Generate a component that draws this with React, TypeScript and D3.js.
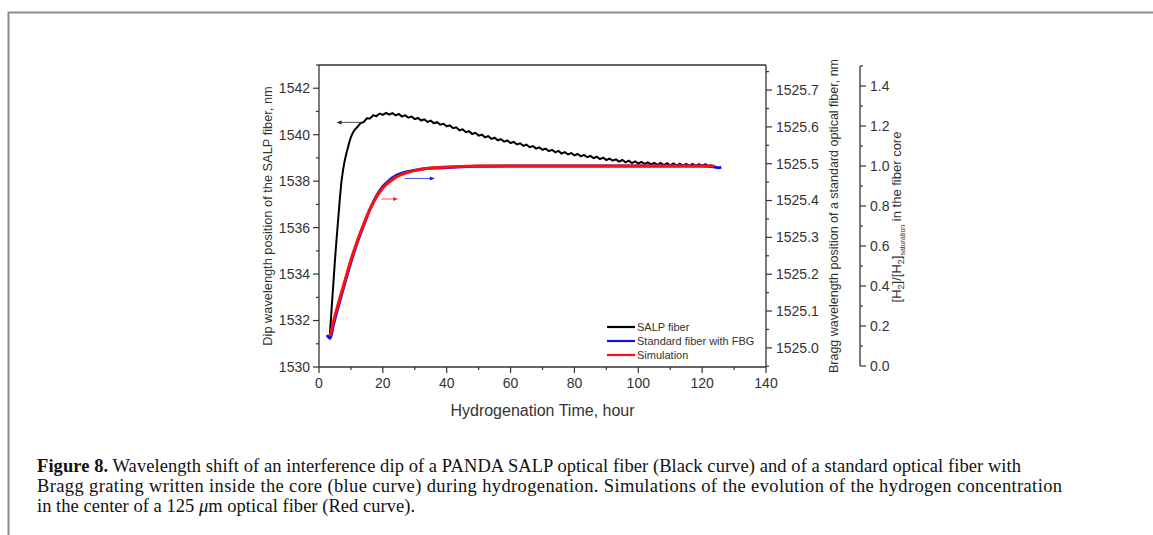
import React from 'react';
import * as d3 from 'd3';

// ---------- data ----------
const blackHours = [3.4, 4, 4.5, 5, 5.5, 6, 6.5, 7, 7.5, 8, 8.5, 9, 9.5, 10, 10.5, 11, 12, 13, 14, 15, 16, 17, 18, 19, 20, 21, 22, 23, 24, 25, 26, 27, 28, 29, 30, 31, 32, 33, 34, 35, 36, 37, 38, 39, 40, 41, 42, 43, 44, 45, 46, 47, 48, 49, 50, 51, 52, 53, 54, 55, 56, 57, 58, 59, 60, 61, 62, 63, 64, 65, 66, 67, 68, 69, 70, 71, 72, 73, 74, 75, 76, 77, 78, 79, 80, 81, 82, 83, 84, 85, 86, 87, 88, 89, 90, 91, 92, 93, 94, 95, 96, 97, 98, 99, 100, 101, 102, 103, 104, 105, 106, 107, 108, 109, 110, 111, 112, 113, 114, 115, 116, 117, 118, 119, 120, 121, 122, 123];
const blackNm = [1531.40, 1532.6, 1533.6, 1534.6, 1535.5, 1536.35, 1537.2, 1537.95, 1538.45, 1538.85, 1539.15, 1539.42, 1539.68, 1539.9, 1540.05, 1540.18, 1540.33,
  1540.50, 1540.54, 1540.71, 1540.70, 1540.84, 1540.80, 1540.91, 1540.85, 1540.94, 1540.86, 1540.93, 1540.83, 1540.89, 1540.78, 1540.84, 1540.73, 1540.78, 1540.67, 1540.72, 1540.61, 1540.66, 1540.55, 1540.60, 1540.49, 1540.54, 1540.43, 1540.47, 1540.36, 1540.40, 1540.28, 1540.32, 1540.19, 1540.23, 1540.11, 1540.15, 1540.03, 1540.08, 1539.96, 1540.00, 1539.89, 1539.94, 1539.82, 1539.87, 1539.76, 1539.81, 1539.70, 1539.75, 1539.64, 1539.69, 1539.58, 1539.63, 1539.52, 1539.57, 1539.46, 1539.51, 1539.40, 1539.45, 1539.35, 1539.40, 1539.29, 1539.35, 1539.24, 1539.30, 1539.19, 1539.25, 1539.15, 1539.21, 1539.11, 1539.17, 1539.07, 1539.13, 1539.03, 1539.09, 1538.99, 1539.05, 1538.95, 1539.01, 1538.91, 1538.97, 1538.88, 1538.94, 1538.84, 1538.91, 1538.81, 1538.88, 1538.78, 1538.85, 1538.76, 1538.83, 1538.74, 1538.81, 1538.72, 1538.79, 1538.70, 1538.78, 1538.69, 1538.77, 1538.68, 1538.76, 1538.67, 1538.75, 1538.66, 1538.74, 1538.66, 1538.74, 1538.65, 1538.73, 1538.65, 1538.73, 1538.64, 1538.70];

const blueHours = [2.5, 3.5, 4.5, 6, 8, 10, 12, 14, 16, 18, 20, 22, 24, 26, 28, 30, 33, 36, 40, 45, 50, 60, 70, 80, 90, 100, 110, 120, 124, 125, 126];
const blueNm = [1525.035, 1525.026, 1525.062, 1525.111, 1525.173, 1525.233, 1525.287, 1525.333, 1525.377, 1525.412, 1525.438, 1525.455, 1525.467, 1525.474, 1525.479, 1525.482, 1525.486, 1525.488, 1525.490, 1525.492, 1525.493, 1525.494, 1525.494, 1525.494, 1525.494, 1525.494, 1525.494, 1525.494, 1525.491, 1525.489, 1525.490];

const redHours = [3.5, 4.5, 6, 8, 10, 12, 14, 16, 18, 20, 22, 24, 26, 28, 30, 33, 36, 40, 45, 50, 60, 80, 100, 123.8];
const redFrac = [0.15, 0.22, 0.31, 0.42, 0.53, 0.625, 0.71, 0.785, 0.845, 0.89, 0.92, 0.943, 0.958, 0.969, 0.977, 0.986, 0.991, 0.995, 0.998, 1.0, 1.0, 1.0, 1.0, 1.0];

const xTicks = [0, 20, 40, 60, 80, 100, 120, 140];
const xMinor = [10, 30, 50, 70, 90, 110, 130];
const leftTicks = [1530, 1532, 1534, 1536, 1538, 1540, 1542];
const leftMinor = [1531, 1533, 1535, 1537, 1539, 1541, 1543];
const braggTicks = [1525.0, 1525.1, 1525.2, 1525.3, 1525.4, 1525.5, 1525.6, 1525.7];
const braggMinor = [1524.95, 1525.05, 1525.15, 1525.25, 1525.35, 1525.45, 1525.55, 1525.65, 1525.75];
const fracTicks = [0, 0.2, 0.4, 0.6, 0.8, 1.0, 1.2, 1.4];
const fracMinor = [0.1, 0.3, 0.5, 0.7, 0.9, 1.1, 1.3, 1.5];

const legendLabels = ['SALP fiber', 'Standard fiber with FBG', 'Simulation'];
const seriesColors = ['#000000', '#1010e0', '#ff1010'];

// arrows: [x from, x to, y] in data units of each series' axis
const arrowBlack = [13.4, 5.5, 1540.53];
const arrowBlue = [26.9, 36.3, 1525.46];
const arrowRed = [19.6, 24.8, 0.835];

const captionLine1 = ' Wavelength shift of an interference dip of a PANDA SALP optical fiber (Black curve) and of a standard optical fiber with';
const captionLine2 = 'Bragg grating written inside the core (blue curve) during hydrogenation. Simulations of the evolution of the hydrogen concentration';

// ---------- layout ----------
const W = 1153, H = 535;
const L = 319, R = 766, T = 65, B = 367;
const AX3 = 860;
const axisColor = '#333';
const textColor = '#333';
const sans = '"Liberation Sans", Arial, sans-serif';
const serif = '"Liberation Serif", "Times New Roman", serif';

export default function App() {
  const x = d3.scaleLinear().domain([0, 140]).range([L, R]);
  const yL = d3.scaleLinear().domain([1530, 1543]).range([B, T]);
  const yB = d3.scaleLinear().domain([1524.948, 1525.768]).range([B, T]);
  const yF = d3.scaleLinear().domain([0, 1.5]).range([366, 66]);

  const lineBlack = d3.line<number>().x((_, i) => x(blackHours[i])).y(d => yL(d));
  const lineBlue = d3.line<number>().x((_, i) => x(blueHours[i])).y(d => yB(d)).curve(d3.curveMonotoneX);
  const lineRed = d3.line<number>().x((_, i) => x(redHours[i])).y(d => yF(d)).curve(d3.curveMonotoneX);

  const arrow = (x1: number, x2: number, y: number, color: string, key: string) => {
    const dir = Math.sign(x2 - x1);
    return (
      <g key={key}>
        <line x1={x1} x2={x2 - dir * 3} y1={y} y2={y} stroke={color} strokeWidth={0.8} />
        <path d={`M${x2},${y} L${x2 - dir * 5},${y - 2} L${x2 - dir * 5},${y + 2} Z`} fill={color} />
      </g>
    );
  };

  return (
    <svg width={W} height={H} style={{ position: 'absolute', left: 0, top: 0, background: '#fff' }}>
      {/* page frame */}
      <path d={`M8.5,${H} L8.5,12.5 L${W},12.5`} fill="none" stroke="#8c8c8c" strokeWidth={2} />

      {/* series */}
      <path d={lineBlack(blackNm) || ''} fill="none" stroke={seriesColors[0]} strokeWidth={2} strokeLinejoin="miter" />
      <path d={lineBlue(blueNm) || ''} fill="none" stroke={seriesColors[1]} strokeWidth={3} />
      <path d={lineRed(redFrac) || ''} fill="none" stroke={seriesColors[2]} strokeWidth={3} />

      {/* arrows */}
      {arrow(x(arrowBlack[0]), x(arrowBlack[1]), yL(arrowBlack[2]), '#222', 'ab')}
      {arrow(x(arrowBlue[0]), x(arrowBlue[1]), yB(arrowBlue[2]), '#2020e0', 'abl')}
      {arrow(x(arrowRed[0]), x(arrowRed[1]), yF(arrowRed[2]), '#ff2020', 'ar')}

      {/* frame */}
      <g stroke={axisColor} strokeWidth={1.3} fill="none">
        <line x1={L} x2={R} y1={T} y2={T} />
        <line x1={L} x2={R} y1={B} y2={B} />
        <line x1={L} x2={L} y1={T} y2={B} />
        <line x1={R} x2={R} y1={T} y2={B} />
        <line x1={AX3} x2={AX3} y1={66} y2={366} />
      </g>

      {/* bottom axis */}
      <g stroke={axisColor} strokeWidth={1.2}>
        {xTicks.map(t => <line key={'xt' + t} x1={x(t)} x2={x(t)} y1={B} y2={B + 6} />)}
        {xMinor.map(t => <line key={'xm' + t} x1={x(t)} x2={x(t)} y1={B} y2={B + 3} />)}
      </g>
      <g fill={textColor} fontFamily={sans} fontSize={14} textAnchor="middle">
        {xTicks.map(t => <text key={'xl' + t} x={x(t)} y={388}>{t}</text>)}
      </g>
      <text x={(L + R) / 2} y={416} fill={textColor} fontFamily={sans} fontSize={16} textAnchor="middle">Hydrogenation Time, hour</text>

      {/* left axis */}
      <g stroke={axisColor} strokeWidth={1.2}>
        {leftTicks.map(t => <line key={'lt' + t} x1={L - 6} x2={L} y1={yL(t)} y2={yL(t)} />)}
        {leftMinor.map(t => <line key={'lm' + t} x1={L - 3} x2={L} y1={yL(t)} y2={yL(t)} />)}
      </g>
      <g fill={textColor} fontFamily={sans} fontSize={14} textAnchor="end">
        {leftTicks.map(t => <text key={'ll' + t} x={L - 9} y={yL(t)} dy="0.35em">{t}</text>)}
      </g>
      <text transform={`translate(268,216) rotate(-90)`} fill={textColor} fontFamily={sans} fontSize={12.8} textAnchor="middle" dy="0.35em">Dip wavelength position of the SALP fiber, nm</text>

      {/* right axis (Bragg) */}
      <g stroke={axisColor} strokeWidth={1.2}>
        {braggTicks.map(t => <line key={'bt' + t} x1={R} x2={R + 6} y1={yB(t)} y2={yB(t)} />)}
        {braggMinor.map(t => <line key={'bm' + t} x1={R} x2={R + 3} y1={yB(t)} y2={yB(t)} />)}
      </g>
      <g fill={textColor} fontFamily={sans} fontSize={14} textAnchor="start">
        {braggTicks.map(t => <text key={'bl' + t} x={R + 10} y={yB(t)} dy="0.35em">{t.toFixed(1)}</text>)}
      </g>
      <text transform={`translate(834,216) rotate(-90)`} fill={textColor} fontFamily={sans} fontSize={12.5} textAnchor="middle" dy="0.35em">Bragg wavelength position of a standard optical fiber, nm</text>

      {/* third axis */}
      <g stroke={axisColor} strokeWidth={1.2}>
        {fracTicks.map(t => <line key={'ft' + t} x1={AX3} x2={AX3 + 6} y1={yF(t)} y2={yF(t)} />)}
        {fracMinor.map(t => <line key={'fm' + t} x1={AX3} x2={AX3 + 3} y1={yF(t)} y2={yF(t)} />)}
      </g>
      <g fill={textColor} fontFamily={sans} fontSize={14} textAnchor="start">
        {fracTicks.map(t => <text key={'fl' + t} x={AX3 + 10} y={yF(t)} dy="0.35em">{t.toFixed(1)}</text>)}
      </g>
      <text transform={`translate(901,217) rotate(-90)`} fill={textColor} fontFamily={sans} fontSize={13} textAnchor="middle">
        <tspan>[H</tspan>
        <tspan fontSize={9} dy={3}>2</tspan>
        <tspan dy={-3}>]/[H</tspan>
        <tspan fontSize={9} dy={3}>2</tspan>
        <tspan dy={-3}>]</tspan>
        <tspan fontSize={7} dy={4}>saturation</tspan>
        <tspan dy={-4}> in the fiber core</tspan>
      </text>

      {/* legend */}
      <g fontFamily={sans} fontSize={11} fill={textColor}>
        {legendLabels.map((lab, i) => (
          <g key={lab}>
            <line x1={607} x2={635} y1={327 + i * 14} y2={327 + i * 14} stroke={seriesColors[i]} strokeWidth={2.2} />
            <text x={637} y={327 + i * 14} dy="0.35em">{lab}</text>
          </g>
        ))}
      </g>

      {/* caption */}
      <g fontFamily={serif} fontSize={18.5} fill="#111">
        <text x={37} y={472} textLength={984}>
          <tspan fontWeight="bold">Figure 8.</tspan>
          <tspan>{captionLine1}</tspan>
        </text>
        <text x={37} y={492} textLength={1025}>{captionLine2}</text>
        <text x={37} y={512} textLength={378}>
          <tspan>in the center of a 125 </tspan>
          <tspan fontStyle="italic">μ</tspan>
          <tspan>m optical fiber (Red curve).</tspan>
        </text>
      </g>
    </svg>
  );
}
